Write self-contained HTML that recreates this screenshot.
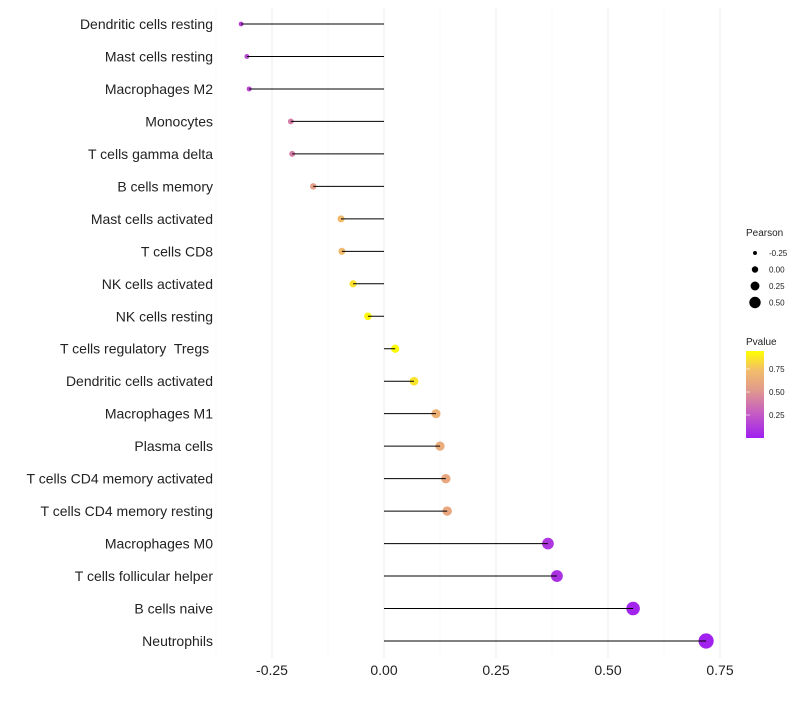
<!DOCTYPE html>
<html><head><meta charset="utf-8"><style>
body{margin:0;background:#fff;font-family:"Liberation Sans",sans-serif}
svg text{font-family:"Liberation Sans",sans-serif;white-space:pre}
</style></head><body>
<svg id="chart" width="800" height="700">
<defs><linearGradient id="pg" x1="0" y1="1" x2="0" y2="0">
<stop offset="0" stop-color="#a020f0"/><stop offset="0.3" stop-color="#c760c0"/><stop offset="0.55" stop-color="#e19a8c"/><stop offset="0.78" stop-color="#f3bd6a"/><stop offset="1" stop-color="#ffff00"/>
</linearGradient></defs>
<g id="grid"></g><g id="marks"></g><g id="labels"></g><g id="legend"></g>
</svg>
<script>
const categories=["Dendritic cells resting","Mast cells resting","Macrophages M2","Monocytes","T cells gamma delta","B cells memory","Mast cells activated","T cells CD8","NK cells activated","NK cells resting","T cells regulatory  Tregs ","Dendritic cells activated","Macrophages M1","Plasma cells","T cells CD4 memory activated","T cells CD4 memory resting","Macrophages M0","T cells follicular helper","B cells naive","Neutrophils"];
const pearson=[-0.319,-0.306,-0.301,-0.208,-0.205,-0.158,-0.096,-0.094,-0.069,-0.036,0.025,0.067,0.116,0.125,0.138,0.141,0.366,0.386,0.556,0.719];
const pvalue=[0.15,0.18,0.18,0.4,0.4,0.55,0.72,0.72,0.85,0.92,0.94,0.86,0.66,0.63,0.6,0.6,0.1,0.08,0.02,0.01];
const xTicks=[-0.25,0,0.25,0.5,0.75];
const xTickLabels=["-0.25","0.00","0.25","0.50","0.75"];
const sizeBreaks=[-0.25,0,0.25,0.5];
const colorTicks=[0.25,0.5,0.75];
const NS="http://www.w3.org/2000/svg";
const X=v=>384+v*448;
const Y=i=>24+i*(641-24)/(categories.length-1);
const R=v=>4.0+5.0*v;
const stops=[[0,[160,32,240]],[0.3,[199,96,192]],[0.55,[225,154,140]],[0.78,[243,189,106]],[1,[255,255,0]]];
const PMAX=0.945;
function col(p){let t=Math.max(0,Math.min(1,p/PMAX));for(let k=1;k<stops.length;k++){if(t<=stops[k][0]){const a=stops[k-1],b=stops[k],f=(t-a[0])/(b[0]-a[0]);return "rgb("+a[1].map((c,j)=>Math.round(c+(b[1][j]-c)*f)).join(",")+")";}}return "rgb(255,255,0)";}
function mk(tag,attrs,parent){const e=document.createElementNS(NS,tag);for(const k in attrs)e.setAttribute(k,attrs[k]);document.getElementById(parent).appendChild(e);return e;}
for(let v=-0.375;v<=0.8;v+=0.125){const major=Math.abs(v*4-Math.round(v*4))<1e-6;
 const l=mk("line",{x1:X(v),x2:X(v),y1:8,y2:658,stroke:major?"#ebebeb":"#f4f4f4","stroke-width":major?1:0.6},"grid");
 
 }
xTicks.forEach((v,i)=>{const t=mk("text",{x:X(v),y:675,"text-anchor":"middle","font-size":14,fill:"#222"},"labels");t.textContent=xTickLabels[i];
 
 });
categories.forEach((c,i)=>{
 const t=mk("text",{x:213,y:Y(i)+5,"text-anchor":"end","font-size":14,fill:"#222"},"labels");t.textContent=c;
 
 
 const ci=mk("circle",{cx:X(pearson[i]),cy:Y(i),r:R(pearson[i]),fill:col(pvalue[i])},"marks");
 
 
 const l=mk("line",{x1:X(0),x2:X(pearson[i]),y1:Y(i),y2:Y(i),stroke:"#000","stroke-width":1},"marks");
 
 
});
let t=mk("text",{x:746,y:236,"font-size":10,fill:"#222"},"legend");t.textContent="Pearson";


sizeBreaks.forEach((v,i)=>{const y=253+i*16.5;
 const c=mk("circle",{cx:755,cy:y,r:R(v)-0.8,fill:"#000"},"legend");
 
 
 const tt=mk("text",{x:769,y:y+3,"font-size":8,fill:"#222"},"legend");tt.textContent=v.toFixed(2);
 
 });
t=mk("text",{x:746,y:345,"font-size":10,fill:"#222"},"legend");t.textContent="Pvalue";


const bar=mk("rect",{x:746,y:351,width:18,height:87,fill:"url(#pg)"},"legend");


colorTicks.forEach(v=>{const y=438-v*92;
 const tt=mk("text",{x:769,y:y+3,"font-size":8,fill:"#222"},"legend");tt.textContent=v.toFixed(2);
 
 
 const ln=mk("line",{x1:746,x2:750,y1:y,y2:y,stroke:"#fff","stroke-opacity":0.6},"legend");
 
 });
</script>
</body></html>
